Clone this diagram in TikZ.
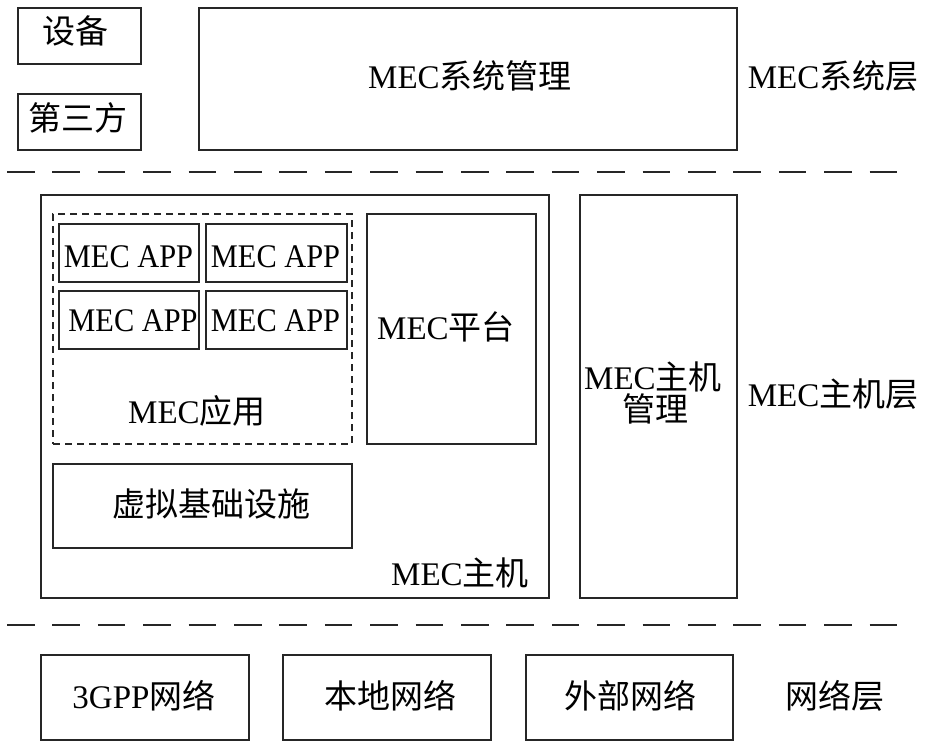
\documentclass[tikz,border=0pt]{standalone}
\usepackage{graphicx}
\usepackage{fontspec}
\setmainfont{Liberation Serif}
\newfontfamily\cjk{Noto Sans CJK SC}
\newcommand\zh[1]{{\cjk #1}}
\newcommand\mecapp{\scalebox{0.92}[1]{MEC APP}}
\begin{document}
\begin{tikzpicture}[x=1pt,y=-1pt,
  box/.style={draw=black!85, line width=1.8pt, inner sep=0pt, outer sep=0pt, anchor=north west},
  dotbox/.style={draw=black!85, line width=1.6pt, dash pattern=on 7pt off 5pt, inner sep=0pt, outer sep=0pt, anchor=north west},
  sep/.style={draw=black!85, line width=1.8pt, dash pattern=on 27.5pt off 17.9pt},
  lbl/.style={font=\fontsize{33}{33}\selectfont, inner sep=0pt, anchor=base, text=black}]
\useasboundingbox (0,0) rectangle (930,750);

% top layer
\node[box, minimum width=123pt, minimum height=56pt] (dev) at (18,8) {};
\node[box, minimum width=123pt, minimum height=56pt] (third) at (18,94) {};
\node[box, minimum width=538pt, minimum height=142pt] (sysmgr) at (199,8) {};
\node[lbl] (tdev) at (75,43) {\zh{设备}};
\node[lbl] (tthird) at (78,130) {\zh{第三方}};
\node[lbl] (tsys) at (470,88) {MEC\zh{系统管理}};
\node[lbl] (tsyslayer) at (833,88) {MEC\zh{系统层}};

% separators
\coordinate (s1a) at (7,172);
\coordinate (s1b) at (900,172);
\coordinate (s2a) at (7,625);
\coordinate (s2b) at (900,625);
\draw[sep] (s1a) -- (s1b);
\draw[sep] (s2a) -- (s2b);

% host layer
\node[box, minimum width=508pt, minimum height=403pt] (host) at (41,195) {};
\node[dotbox, minimum width=299pt, minimum height=230pt] (apps) at (53,214) {};
\node[box, minimum width=140pt, minimum height=58pt] (app1) at (59,224) {};
\node[box, minimum width=141pt, minimum height=58pt] (app2) at (206,224) {};
\node[box, minimum width=140pt, minimum height=58pt] (app3) at (59,291) {};
\node[box, minimum width=141pt, minimum height=58pt] (app4) at (206,291) {};
\node[lbl] (tapp1) at (128.5,267) {\mecapp};
\node[lbl] (tapp2) at (275.5,267) {\mecapp};
\node[lbl] (tapp3) at (133,331) {\mecapp};
\node[lbl] (tapp4) at (275.5,331) {\mecapp};
\node[lbl] (tapps) at (197,423) {MEC\zh{应用}};
\node[box, minimum width=169pt, minimum height=230pt] (plat) at (367,214) {};
\node[lbl] (tplat) at (446,339) {MEC\zh{平台}};
\node[box, minimum width=299pt, minimum height=84pt] (virt) at (53,464) {};
\node[lbl] (tvirt) at (211,516) {\zh{虚拟基础设施}};
\node[lbl] (thost) at (460,585) {MEC\zh{主机}};
\node[box, minimum width=157pt, minimum height=403pt] (hmgr) at (580,195) {};
\node[lbl] (thmgr1) at (653,389) {MEC\zh{主机}};
\node[lbl] (thmgr2) at (655,421) {\zh{管理}};
\node[lbl] (thostlayer) at (833,406) {MEC\zh{主机层}};

% network layer
\node[box, minimum width=208pt, minimum height=85pt] (net1) at (41,655) {};
\node[box, minimum width=208pt, minimum height=85pt] (net2) at (283,655) {};
\node[box, minimum width=207pt, minimum height=85pt] (net3) at (526,655) {};
\node[lbl] (tnet1) at (144,708) {3GPP\zh{网络}};
\node[lbl] (tnet2) at (390,708) {\zh{本地网络}};
\node[lbl] (tnet3) at (630,708) {\zh{外部网络}};
\node[lbl] (tnetlayer) at (835,708) {\zh{网络层}};
\end{tikzpicture}
\end{document}
